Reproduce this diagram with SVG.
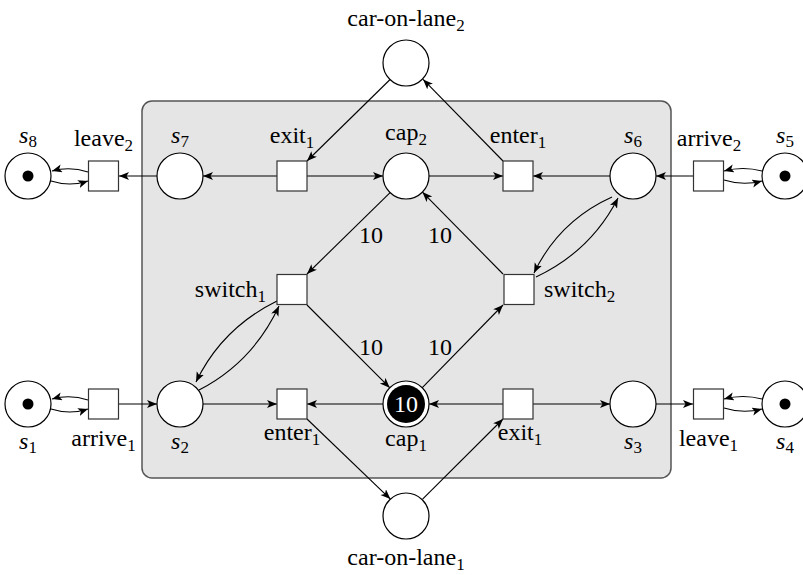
<svg xmlns="http://www.w3.org/2000/svg" width="803" height="575" viewBox="0 0 803 575">
<style>
.pl{fill:#fff;stroke:#000;stroke-width:1.2}
.tr{fill:#fff;stroke:#333;stroke-width:1.2}
.ed{fill:none;stroke:#000;stroke-width:1.1;marker-end:url(#ah)}
text{font-family:"Liberation Serif",Tinos,"Times New Roman","Noto Serif","DejaVu Serif",FreeSerif,Times,serif;font-size:24px;fill:#000}
.m{text-anchor:middle}
.e{text-anchor:end}
.it{font-style:italic}
.sb{font-size:17px}
.w{fill:#fff}
</style>
<defs>
<marker id="ah" markerUnits="userSpaceOnUse" markerWidth="12" markerHeight="10" refX="10" refY="4" orient="auto"><path d="M0,0 L10,4 L0,8 L2.5,4 Z" fill="#000"/></marker>
</defs>
<rect x="142" y="101" width="529" height="377" rx="10" fill="#e5e5e5" stroke="#555" stroke-width="1.5"/>
<g id="connectors">
<line class="ed" x1="277" y1="176" x2="203" y2="176"/>
<line class="ed" x1="307" y1="176" x2="383" y2="176"/>
<line class="ed" x1="429" y1="176" x2="503" y2="176"/>
<line class="ed" x1="610" y1="176" x2="533" y2="176"/>
<line class="ed" x1="157" y1="176" x2="119" y2="176"/>
<line class="ed" x1="693" y1="176" x2="656" y2="176"/>
<line class="ed" x1="390.6" y1="79" x2="307" y2="161"/>
<line class="ed" x1="503" y1="161" x2="423.1" y2="79.4"/>
<path class="ed" d="M88,172 Q70,166 52,171"/>
<path class="ed" d="M51,181 Q70,187 88,181"/>
<path class="ed" d="M762,171 Q743,166 724,171"/>
<path class="ed" d="M724,180 Q743,186 762,181"/>
<line class="ed" x1="119" y1="404" x2="157" y2="404"/>
<line class="ed" x1="203" y1="404" x2="277" y2="404"/>
<line class="ed" x1="383" y1="404" x2="307" y2="404"/>
<line class="ed" x1="503" y1="404" x2="429" y2="404"/>
<line class="ed" x1="533" y1="404" x2="610" y2="404"/>
<line class="ed" x1="656" y1="404" x2="693" y2="404"/>
<path class="ed" d="M88,400 Q70,394 52,399"/>
<path class="ed" d="M51,409 Q70,415 88,409"/>
<path class="ed" d="M762,399 Q743,394 724,399"/>
<path class="ed" d="M724,408 Q743,414 762,409"/>
<line class="ed" x1="307" y1="419" x2="390.4" y2="499.1"/>
<line class="ed" x1="422.6" y1="499.1" x2="503" y2="419"/>
<line class="ed" x1="390.6" y1="192.1" x2="307" y2="274"/>
<line class="ed" x1="503" y1="274" x2="422.4" y2="192.1"/>
<line class="ed" x1="307" y1="305" x2="389.7" y2="387.7"/>
<line class="ed" x1="422.3" y1="387.7" x2="503" y2="305"/>
<path class="ed" d="M277,301 Q222,328 196,382"/>
<path class="ed" d="M199,390 Q253,362 279,306"/>
<path class="ed" d="M612,197 Q559,221 534,273"/>
<path class="ed" d="M536,277 Q591,251 618,198"/>
<text class="m" x="371" y="243">10</text>
<text class="m" x="440" y="243">10</text>
<text class="m" x="371" y="355">10</text>
<text class="m" x="440" y="355">10</text>
</g>
<g id="car-on-lane2"><circle class="pl" cx="406" cy="63" r="23"/><text class="m" x="406" y="26">car-on-lane<tspan class="sb" dy="5">2</tspan></text></g>
<g id="s8"><circle class="pl" cx="28" cy="176" r="23"/><circle cx="28" cy="176" r="5.5"/><text class="m" x="28" y="143"><tspan class="it">s</tspan><tspan class="sb" dy="4">8</tspan></text></g>
<g id="leave2"><rect class="tr" x="88.5" y="161" width="30" height="30"/><text class="m" x="103.5" y="146">leave<tspan class="sb" dy="5">2</tspan></text></g>
<g id="s7"><circle class="pl" cx="180" cy="176" r="23"/><text class="m" x="180" y="143"><tspan class="it">s</tspan><tspan class="sb" dy="4">7</tspan></text></g>
<g id="exit1-top"><rect class="tr" x="277" y="161" width="30" height="30"/><text class="m" x="292" y="143">exit<tspan class="sb" dy="5">1</tspan></text></g>
<g id="cap2"><circle class="pl" cx="406" cy="176" r="23"/><text class="m" x="406" y="140">cap<tspan class="sb" dy="5">2</tspan></text></g>
<g id="enter1-top"><rect class="tr" x="503" y="161" width="30" height="30"/><text class="m" x="518" y="143">enter<tspan class="sb" dy="5">1</tspan></text></g>
<g id="s6"><circle class="pl" cx="633" cy="176" r="23"/><text class="m" x="633" y="143"><tspan class="it">s</tspan><tspan class="sb" dy="4">6</tspan></text></g>
<g id="arrive2"><rect class="tr" x="693.5" y="161" width="30" height="30"/><text class="m" x="709" y="146">arrive<tspan class="sb" dy="5">2</tspan></text></g>
<g id="s5"><circle class="pl" cx="785" cy="176" r="23"/><circle cx="785" cy="176" r="5.5"/><text class="m" x="785" y="143"><tspan class="it">s</tspan><tspan class="sb" dy="4">5</tspan></text></g>
<g id="switch1"><rect class="tr" x="277" y="274.5" width="30" height="30"/><text class="e" x="266" y="297">switch<tspan class="sb" dy="5">1</tspan></text></g>
<g id="switch2"><rect class="tr" x="504" y="274.5" width="30" height="30"/><text x="544" y="297">switch<tspan class="sb" dy="5">2</tspan></text></g>
<g id="s1"><circle class="pl" cx="28" cy="404" r="23"/><circle cx="28" cy="404" r="5.5"/><text class="m" x="28" y="449"><tspan class="it">s</tspan><tspan class="sb" dy="4">1</tspan></text></g>
<g id="arrive1"><rect class="tr" x="88.5" y="389" width="30" height="30"/><text class="m" x="103.5" y="446">arrive<tspan class="sb" dy="5">1</tspan></text></g>
<g id="s2"><circle class="pl" cx="180" cy="404" r="23"/><text class="m" x="180" y="449"><tspan class="it">s</tspan><tspan class="sb" dy="4">2</tspan></text></g>
<g id="enter1-bottom"><rect class="tr" x="277" y="389" width="30" height="30"/><text class="m" x="292" y="440">enter<tspan class="sb" dy="5">1</tspan></text></g>
<g id="cap1"><circle class="pl" cx="406" cy="404" r="23"/><circle cx="406" cy="404" r="19" fill="#000"/><text class="m w" x="406" y="412">10</text><text class="m" x="406" y="446">cap<tspan class="sb" dy="5">1</tspan></text></g>
<g id="exit1-bottom"><rect class="tr" x="503" y="389" width="30" height="30"/><text class="m" x="520" y="440">exit<tspan class="sb" dy="5">1</tspan></text></g>
<g id="s3"><circle class="pl" cx="633" cy="404" r="23"/><text class="m" x="633" y="449"><tspan class="it">s</tspan><tspan class="sb" dy="4">3</tspan></text></g>
<g id="leave1"><rect class="tr" x="693.5" y="389" width="30" height="30"/><text class="m" x="708.5" y="446">leave<tspan class="sb" dy="5">1</tspan></text></g>
<g id="s4"><circle class="pl" cx="785" cy="404" r="23"/><circle cx="785" cy="404" r="5.5"/><text class="m" x="785" y="449"><tspan class="it">s</tspan><tspan class="sb" dy="4">4</tspan></text></g>
<g id="car-on-lane1"><circle class="pl" cx="406" cy="516" r="23"/><text class="m" x="406" y="565">car-on-lane<tspan class="sb" dy="5">1</tspan></text></g>
</svg>
